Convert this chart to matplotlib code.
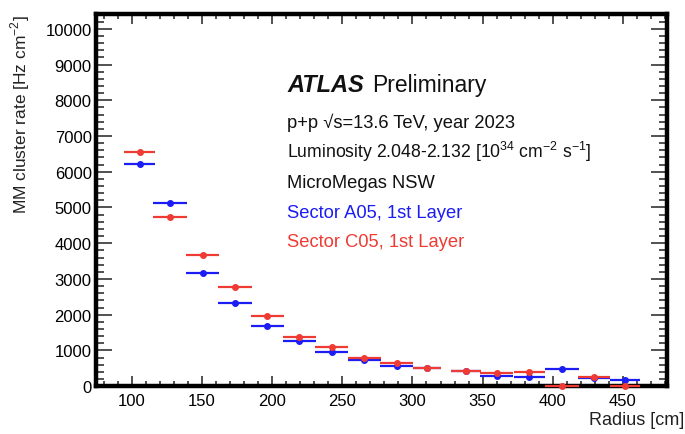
import matplotlib
matplotlib.use("Agg")
import matplotlib.pyplot as plt
from matplotlib.ticker import MultipleLocator

plt.rcParams['font.family'] = ['Liberation Sans', 'DejaVu Sans']
plt.rcParams['mathtext.fontset'] = 'custom'
plt.rcParams['mathtext.rm'] = 'Liberation Sans'

# Data
radius = [105.5, 127.2, 150.4, 173.5, 196.5, 219.4, 242.4, 265.5,
          288.8, 310.3, 338.0, 360.0, 383.4, 406.5, 429.6, 451.5]
half_width = [11.0, 12.0, 11.9, 12.0, 11.9, 11.9, 11.9, 11.8,
              11.9, 10.1, 10.5, 12.0, 11.3, 11.9, 11.3, 10.5]
rate_a05 = [6227, 5134, 3156, 2334, 1690, 1252, 952, 728,
            560, 500, 430, 271, 243, 476, 215, 177]
rate_c05 = [6546, 4725, 3678, 2764, 1952, 1363, 1084, 776,
            644, 504, 429, 355, 401, 10, 252, 8]

blue = '#1c1cf5'
red = '#ee3b34'

fig = plt.figure(figsize=(6.85, 4.35), dpi=100)
ax = fig.add_axes([0.140, 0.110, 0.834, 0.856])

ax.errorbar(radius, rate_a05, xerr=half_width, fmt='o', color=blue,
            ms=4, elinewidth=1.6, capsize=0, ecolor=blue, zorder=5,
            clip_on=False)
ax.errorbar(radius, rate_c05, xerr=half_width, fmt='o', color=red,
            ms=4, elinewidth=1.6, capsize=0, ecolor=red, zorder=6,
            clip_on=False)

ax.set_xlim(74.3, 481.6)
ax.set_ylim(0, 10420)

ax.xaxis.set_major_locator(MultipleLocator(50))
ax.xaxis.set_minor_locator(MultipleLocator(10))
ax.yaxis.set_major_locator(MultipleLocator(1000))
ax.yaxis.set_minor_locator(MultipleLocator(200))

ax.tick_params(which='both', direction='in', top=True, right=True,
               labelsize=12, color='#222222', width=1.1)
ax.tick_params(axis='x', which='major', length=7, pad=5)
ax.tick_params(axis='x', which='minor', length=3.5)
ax.tick_params(axis='y', which='major', length=11.5, pad=3)
ax.tick_params(axis='y', which='minor', length=5.8)

for s in ax.spines.values():
    s.set_linewidth(3.2)
    s.set_color('black')
    s.set_zorder(4)

ax.set_ylabel('MM cluster rate [Hz cm$^{-2}$]', fontsize=12.5, color='#222222')
ax.yaxis.set_label_coords(-0.112, 1.0)
ax.yaxis.label.set_horizontalalignment('right')

fig.text(684 / 685, 6 / 435, 'Radius [cm]', fontsize=13, color='#222222',
         ha='right', va='bottom')

# labels
tx = 287 / 685
fig.text(tx, 1 - 92 / 435, 'ATLAS', fontsize=17, fontweight='bold',
         fontstyle='italic', color='#111111', va='baseline')
fig.text(372 / 685, 1 - 92 / 435, 'Preliminary', fontsize=16.5,
         color='#111111', va='baseline')
fig.text(tx, 1 - 128 / 435, 'p+p √s=13.6 TeV, year 2023', fontsize=13.2,
         color='#111111', va='baseline')
fig.text(tx, 1 - 158 / 435,
         r'Luminosity 2.048-2.132 [10$^{34}$ cm$^{-2}$ s$^{-1}$]', fontsize=12.7,
         color='#111111', va='baseline')
fig.text(tx, 1 - 188 / 435, 'MicroMegas NSW', fontsize=13.2,
         color='#111111', va='baseline')
fig.text(tx, 1 - 218 / 435, 'Sector A05, 1st Layer', fontsize=13.2,
         color=blue, va='baseline')
fig.text(tx, 1 - 247 / 435, 'Sector C05, 1st Layer', fontsize=13.2,
         color=red, va='baseline')

fig.savefig('out.png', dpi=100)
